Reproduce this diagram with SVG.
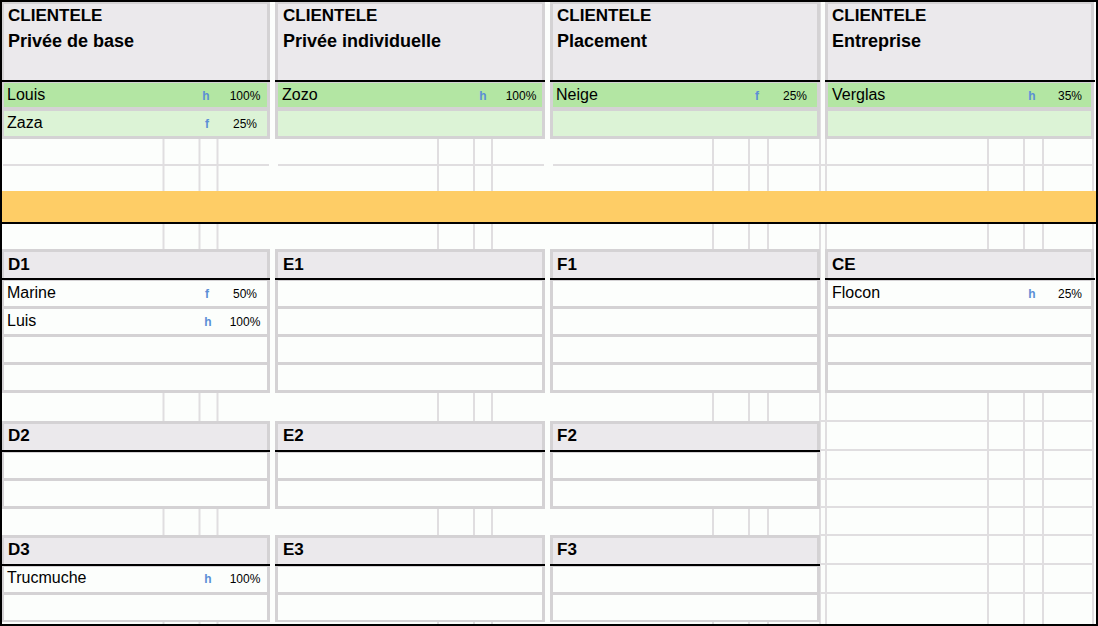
<svg xmlns="http://www.w3.org/2000/svg" width="1098" height="626" viewBox="0 0 1098 626">
<style>
.bg{fill:#fcfefc}
.frame{fill:#d4d2d4}
.hd{fill:#ebe9ec}
.gA{fill:#b3e6a3}
.gB{fill:#dcf3d6}
.w{fill:#fcfefc}
.bl{fill:#000}
.or{fill:#fecd66}
.grid{stroke:#e0dee0;stroke-width:2;fill:none}
.t1{font-family:"Liberation Sans",Arial,sans-serif;font-weight:bold;font-size:17px;fill:#000}
.t2{font-family:"Liberation Sans",Arial,sans-serif;font-weight:bold;font-size:18px;fill:#000}
.nm{font-family:"Liberation Sans",Arial,sans-serif;font-size:16px;fill:#000}
.sx{font-family:"Liberation Sans",Arial,sans-serif;font-weight:bold;font-size:12px;fill:#5b8fd6;text-anchor:middle}
.pc{font-family:"Liberation Sans",Arial,sans-serif;font-size:12px;fill:#000;text-anchor:middle}
</style>
<rect class="bg" x="0" y="0" width="1098" height="626"/>
<g id="grid">
<path class="grid" d="M163.5 2V624M199.5 2V624M217.5 2V624M438 2V624M474 2V624M492 2V624M713 2V624M749 2V624M768 2V624M820 2V624M826 2V624M988 2V624M1024 2V624M1043 2V624M1093 2V624"/>
<path class="grid" d="M3 165H269M278 165H544M553 165H1094M819 421H1094M819 450H1094M819 479H1094M819 507H1094M819 535H1094M819 564H1094M819 593H1094"/>
</g>
<g id="clientele-privee-base">
<rect class="frame" x="1" y="1" width="269" height="138"/>
<rect class="hd" x="4" y="4" width="263" height="76"/>
<rect class="bl" x="0" y="80" width="270" height="2"/>
<rect class="gA" x="4" y="83" width="263" height="24"/>
<rect class="gB" x="4" y="111" width="263" height="25"/>
<text class="t1" x="8" y="21">CLIENTELE</text>
<text class="t2" x="8" y="47">Privée de base</text>
<text class="nm" x="7" y="100">Louis</text>
<text class="sx" x="206" y="100">h</text>
<text class="pc" x="245" y="100">100%</text>
<text class="nm" x="7" y="128">Zaza</text>
<text class="sx" x="207" y="128">f</text>
<text class="pc" x="245" y="128">25%</text>
</g>
<g id="clientele-privee-individuelle">
<rect class="frame" x="275" y="1" width="270" height="138"/>
<rect class="hd" x="278" y="4" width="264" height="76"/>
<rect class="bl" x="275" y="80" width="270" height="2"/>
<rect class="gA" x="278" y="83" width="264" height="24"/>
<rect class="gB" x="278" y="111" width="264" height="25"/>
<text class="t1" x="283" y="21">CLIENTELE</text>
<text class="t2" x="283" y="47">Privée individuelle</text>
<text class="nm" x="282" y="100">Zozo</text>
<text class="sx" x="483" y="100">h</text>
<text class="pc" x="521" y="100">100%</text>
</g>
<g id="clientele-placement">
<rect class="frame" x="550" y="1" width="270" height="138"/>
<rect class="hd" x="553" y="4" width="264" height="76"/>
<rect class="bl" x="550" y="80" width="270" height="2"/>
<rect class="gA" x="553" y="83" width="264" height="24"/>
<rect class="gB" x="553" y="111" width="264" height="25"/>
<text class="t1" x="557" y="21">CLIENTELE</text>
<text class="t2" x="557" y="47">Placement</text>
<text class="nm" x="556" y="100">Neige</text>
<text class="sx" x="757" y="100">f</text>
<text class="pc" x="795" y="100">25%</text>
</g>
<g id="clientele-entreprise">
<rect class="frame" x="825" y="1" width="269" height="138"/>
<rect class="hd" x="828" y="4" width="263" height="76"/>
<rect class="bl" x="825" y="80" width="270" height="2"/>
<rect class="gA" x="828" y="83" width="263" height="24"/>
<rect class="gB" x="828" y="111" width="263" height="25"/>
<text class="t1" x="832" y="21">CLIENTELE</text>
<text class="t2" x="832" y="47">Entreprise</text>
<text class="nm" x="832" y="100">Verglas</text>
<text class="sx" x="1032" y="100">h</text>
<text class="pc" x="1070" y="100">35%</text>
</g>
<g id="separator">
<rect class="or" x="2" y="191" width="1094" height="31"/>
<rect class="bl" x="0" y="222" width="1098" height="2"/>
</g>
<g id="D1">
<rect class="frame" x="1" y="249" width="269" height="144"/>
<rect class="hd" x="4" y="252" width="263" height="26"/>
<rect class="bl" x="0" y="278" width="270" height="2"/>
<rect class="w" x="4" y="281" width="263" height="25"/>
<rect class="w" x="4" y="309" width="263" height="25"/>
<rect class="w" x="4" y="337" width="263" height="25"/>
<rect class="w" x="4" y="365" width="263" height="25"/>
<text class="t1" x="8" y="270">D1</text>
<text class="nm" x="7" y="298">Marine</text>
<text class="sx" x="207" y="298">f</text>
<text class="pc" x="245" y="298">50%</text>
<text class="nm" x="7" y="326">Luis</text>
<text class="sx" x="208" y="326">h</text>
<text class="pc" x="245" y="326">100%</text>
</g>
<g id="E1">
<rect class="frame" x="275" y="249" width="270" height="144"/>
<rect class="hd" x="278" y="252" width="264" height="26"/>
<rect class="bl" x="275" y="278" width="270" height="2"/>
<rect class="w" x="278" y="281" width="264" height="25"/>
<rect class="w" x="278" y="309" width="264" height="25"/>
<rect class="w" x="278" y="337" width="264" height="25"/>
<rect class="w" x="278" y="365" width="264" height="25"/>
<text class="t1" x="283" y="270">E1</text>
</g>
<g id="F1">
<rect class="frame" x="550" y="249" width="270" height="144"/>
<rect class="hd" x="553" y="252" width="264" height="26"/>
<rect class="bl" x="550" y="278" width="270" height="2"/>
<rect class="w" x="553" y="281" width="264" height="25"/>
<rect class="w" x="553" y="309" width="264" height="25"/>
<rect class="w" x="553" y="337" width="264" height="25"/>
<rect class="w" x="553" y="365" width="264" height="25"/>
<text class="t1" x="557" y="270">F1</text>
</g>
<g id="CE">
<rect class="frame" x="825" y="249" width="269" height="144"/>
<rect class="hd" x="828" y="252" width="263" height="26"/>
<rect class="bl" x="825" y="278" width="270" height="2"/>
<rect class="w" x="828" y="281" width="263" height="25"/>
<rect class="w" x="828" y="309" width="263" height="25"/>
<rect class="w" x="828" y="337" width="263" height="25"/>
<rect class="w" x="828" y="365" width="263" height="25"/>
<text class="t1" x="832" y="270">CE</text>
<text class="nm" x="832" y="298">Flocon</text>
<text class="sx" x="1032" y="298">h</text>
<text class="pc" x="1070" y="298">25%</text>
</g>
<g id="D2">
<rect class="frame" x="1" y="421" width="269" height="88"/>
<rect class="hd" x="4" y="424" width="263" height="26"/>
<rect class="bl" x="0" y="450" width="270" height="2"/>
<rect class="w" x="4" y="453" width="263" height="25"/>
<rect class="w" x="4" y="481" width="263" height="25"/>
<text class="t1" x="8" y="441">D2</text>
</g>
<g id="E2">
<rect class="frame" x="275" y="421" width="270" height="88"/>
<rect class="hd" x="278" y="424" width="264" height="26"/>
<rect class="bl" x="275" y="450" width="270" height="2"/>
<rect class="w" x="278" y="453" width="264" height="25"/>
<rect class="w" x="278" y="481" width="264" height="25"/>
<text class="t1" x="283" y="441">E2</text>
</g>
<g id="F2">
<rect class="frame" x="550" y="421" width="270" height="88"/>
<rect class="hd" x="553" y="424" width="264" height="26"/>
<rect class="bl" x="550" y="450" width="270" height="2"/>
<rect class="w" x="553" y="453" width="264" height="25"/>
<rect class="w" x="553" y="481" width="264" height="25"/>
<text class="t1" x="557" y="441">F2</text>
</g>
<g id="D3">
<rect class="frame" x="1" y="535" width="269" height="87"/>
<rect class="hd" x="4" y="538" width="263" height="26"/>
<rect class="bl" x="0" y="564" width="270" height="2"/>
<rect class="w" x="4" y="567" width="263" height="25"/>
<rect class="w" x="4" y="595" width="263" height="25"/>
<text class="t1" x="8" y="555">D3</text>
<text class="nm" x="7" y="583">Trucmuche</text>
<text class="sx" x="208" y="583">h</text>
<text class="pc" x="245" y="583">100%</text>
</g>
<g id="E3">
<rect class="frame" x="275" y="535" width="270" height="87"/>
<rect class="hd" x="278" y="538" width="264" height="26"/>
<rect class="bl" x="275" y="564" width="270" height="2"/>
<rect class="w" x="278" y="567" width="264" height="25"/>
<rect class="w" x="278" y="595" width="264" height="25"/>
<text class="t1" x="283" y="555">E3</text>
</g>
<g id="F3">
<rect class="frame" x="550" y="535" width="270" height="87"/>
<rect class="hd" x="553" y="538" width="264" height="26"/>
<rect class="bl" x="550" y="564" width="270" height="2"/>
<rect class="w" x="553" y="567" width="264" height="25"/>
<rect class="w" x="553" y="595" width="264" height="25"/>
<text class="t1" x="557" y="555">F3</text>
</g>
<rect id="border" x="1" y="1" width="1096" height="624" fill="none" stroke="#000" stroke-width="2"/>
</svg>
